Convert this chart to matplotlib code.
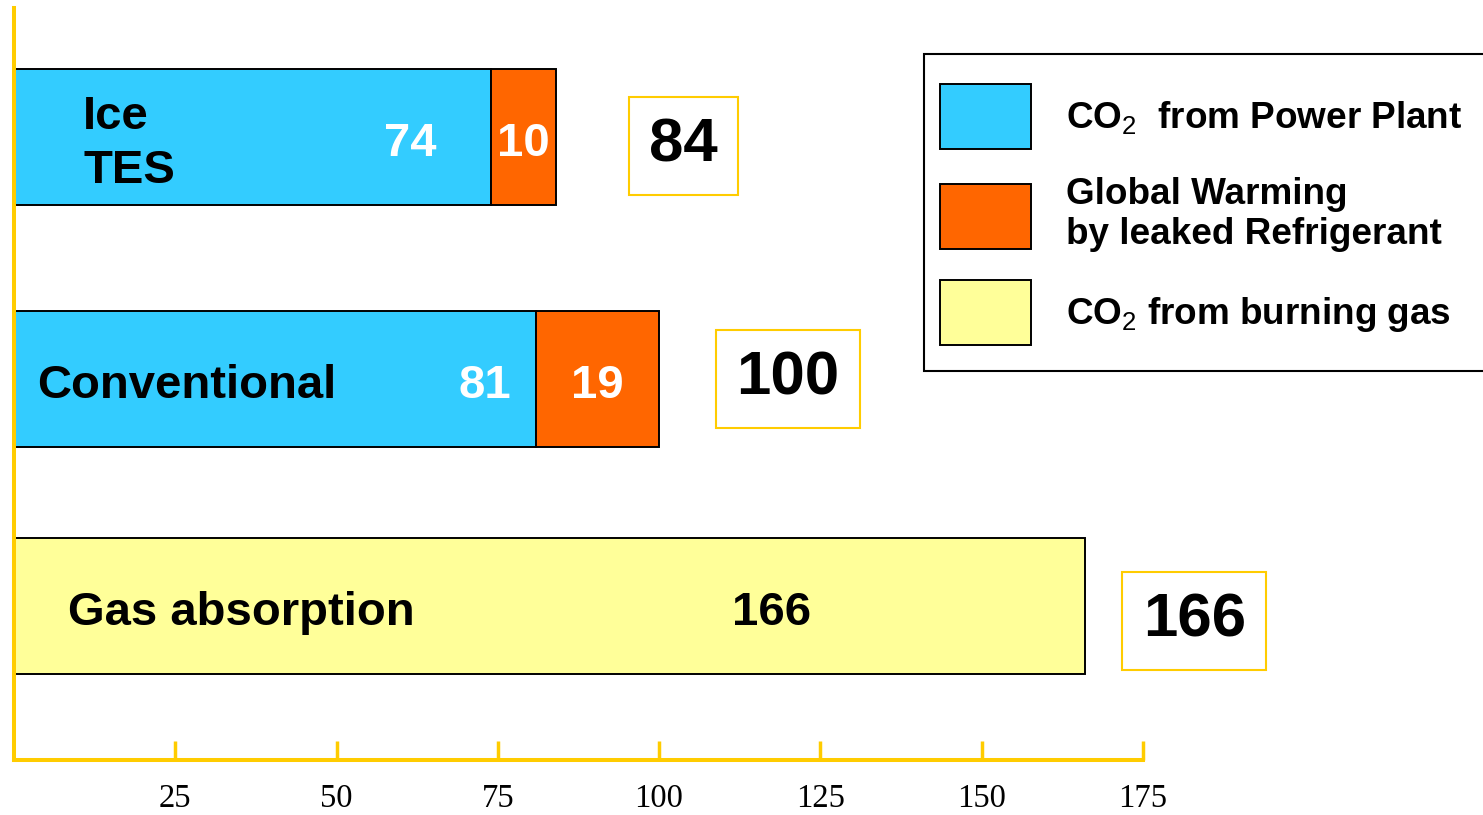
import numpy as np
import matplotlib
matplotlib.use("Agg")
from matplotlib import pyplot as plt
from matplotlib.patches import Rectangle

plt.rcParams["mathtext.fontset"] = "custom"
plt.rcParams["mathtext.rm"] = "Liberation Sans"
plt.rcParams["mathtext.it"] = "Liberation Sans:italic"
plt.rcParams["mathtext.bf"] = "Liberation Sans:bold"

# annual CO2-equivalent emissions, relative to conventional chiller = 100
categories = ["Ice\nTES", "Conventional", "Gas absorption"]
power_plant = [74, 81, 0]
refrigerant = [10, 19, 0]
burning_gas = [0, 0, 166]
totals = [84, 100, 166]
series_labels = ["CO$_2$  from Power Plant", "Global Warming\nby leaked Refrigerant", "CO$_2$ from burning gas"]
xticks = [25, 50, 75, 100, 125, 150, 175]

blue = "#33CCFF"
orange = "#FF6600"
yellow = "#FFFF99"
gold = "#FFCC00"
sans = "Liberation Sans"

W, H = 1483, 815
fig = plt.figure(figsize=(W / 100, H / 100), dpi=100)
ax = fig.add_axes([14 / W, 55 / H, 1 - 14 / W, 752 / H])
pxPerUnit = 6.45
ax.set_xlim(0, (W - 14) / pxPerUnit)
ax.set_ylim(2.657, -0.55)

ypos = np.array([0, 1.033, 2])
barHeight = 0.58
barStyle = dict(height=barHeight, edgecolor="black", linewidth=1.4, zorder=1)

def nonzero(values, left=None):
    idx = [i for i, v in enumerate(values) if v > 0]
    lefts = [0 if left is None else left[i] for i in idx]
    return ypos[idx], [values[i] for i in idx], lefts

y, w, l = nonzero(power_plant)
hPower = ax.barh(y, w, left=l, color=blue, label=series_labels[0], **barStyle)
y, w, l = nonzero(refrigerant, power_plant)
hRefrig = ax.barh(y, w, left=l, color=orange, label=series_labels[1], **barStyle)
y, w, l = nonzero(burning_gas)
hGas = ax.barh(y, w, left=l, color=yellow, label=series_labels[2], **barStyle)

# text drawn with va="center" sits a little high, nudge it down
dy = 0.03

# category names inside the bars
nameX = [10.7, 3.6, 8.4]
for i, name in enumerate(categories):
    ax.text(nameX[i], ypos[i] + dy, name, ha="left", va="center", fontsize=34,
            fontweight="bold", family=sans, color="black", linespacing=1.3)

# segment values
blueOffset = [12.5, 8.0]
for i in range(2):
    ax.text(power_plant[i] - blueOffset[i], ypos[i] + dy, str(power_plant[i]), ha="center", va="center",
            fontsize=34, fontweight="bold", family=sans, color="white")
    ax.text(power_plant[i] + refrigerant[i] / 2, ypos[i] + dy, str(refrigerant[i]), ha="center", va="center",
            fontsize=34, fontweight="bold", family=sans, color="white")
ax.text(burning_gas[2] - 48.5, ypos[2] + dy, str(burning_gas[2]), ha="center", va="center",
        fontsize=34, fontweight="bold", family=sans, color="black")

# boxed totals to the right of each bar
boxGap = [14.5, 12, 9]
boxDy = [0.04, 0.0, 0.065]
for i, total in enumerate(totals):
    ax.text(total + boxGap[i], ypos[i] + boxDy[i], str(total), ha="left", va="center", fontsize=44.5,
            fontweight="bold", family=sans, color="black",
            bbox=dict(boxstyle="square,pad=0.33", facecolor="white", edgecolor=gold, linewidth=1.5))

for side in ["top", "right"]:
    ax.spines[side].set_visible(False)
for side in ["left", "bottom"]:
    ax.spines[side].set_color(gold)
    ax.spines[side].set_linewidth(2.9)
    ax.spines[side].set_zorder(3)
ax.spines["bottom"].set_bounds(0, 175)
ax.set_yticks([])
ax.set_xticks(xticks)
ax.set_xticklabels([str(t) for t in xticks], family="Liberation Serif", fontsize=23.5)
ax.tick_params(axis="x", direction="in", length=14, width=2.5, color=gold, pad=17)

# legend box runs off the right edge, so the frame is drawn separately
fig.add_artist(Rectangle((924 / W, 1 - 371 / H), 600 / W, 317 / H, transform=fig.transFigure,
                         facecolor="white", edgecolor="black", linewidth=1.5, zorder=4))
leg = fig.legend(handles=[hPower, hRefrig, hGas], loc="upper left",
                 bbox_to_anchor=(940 / W, 1 - 84 / H), bbox_transform=fig.transFigure,
                 borderaxespad=0, frameon=False, borderpad=0,
                 prop=dict(family=sans, weight="bold", size=26.6),
                 handlelength=2.47, handleheight=2.33, handletextpad=0.95,
                 labelspacing=0.75)
leg.set_zorder(5)

fig.savefig("out.png", dpi=100)
plt.close(fig)
